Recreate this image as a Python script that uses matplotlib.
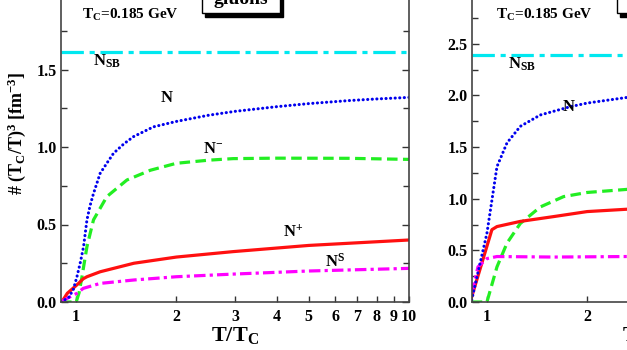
import matplotlib
matplotlib.use('Agg')
import matplotlib.pyplot as plt
from matplotlib.patches import Rectangle

plt.rcParams['font.family'] = 'Liberation Serif'
plt.rcParams['font.weight'] = 'bold'
plt.rcParams['axes.labelweight'] = 'bold'
plt.rcParams['mathtext.fontset'] = 'custom'
plt.rcParams['mathtext.rm'] = 'Liberation Serif:bold'
plt.rcParams['mathtext.it'] = 'Liberation Serif:bold'
plt.rcParams['mathtext.bf'] = 'Liberation Serif:bold'

# ---- left panel (gluons) ----
T_N_l = [0.90, 0.95, 0.98, 1.005, 1.03, 1.052, 1.077, 1.10, 1.127, 1.18, 1.24, 1.295,
         1.39, 1.487, 1.706, 2.0, 2.5, 3.0, 4.0, 5.0, 6.65, 8.0, 10.0]
N_l = [0.0, 0.03, 0.08, 0.163, 0.26, 0.357, 0.53, 0.62, 0.70, 0.83, 0.90, 0.96,
       1.02, 1.067, 1.13, 1.165, 1.205, 1.23, 1.26, 1.28, 1.30, 1.31, 1.32]
T_Nm_l = [0.90, 0.97, 1.00, 1.02, 1.04, 1.077, 1.127, 1.236, 1.42, 1.67, 2.0, 2.5,
          2.96, 4.0, 6.6, 10.0]
Nm_l = [0.0, 0.0, 0.0, 0.06, 0.16, 0.357, 0.53, 0.68, 0.787, 0.85, 0.895, 0.915,
        0.925, 0.928, 0.927, 0.92]
T_Np_l = [0.905, 0.94, 0.98, 1.016, 1.05, 1.077, 1.18, 1.49, 2.0, 2.96, 5.0, 10.0]
Np_l = [0.0, 0.056, 0.09, 0.12, 0.15, 0.163, 0.195, 0.25, 0.29, 0.325, 0.365, 0.40]
T_NS_l = [0.90, 0.94, 1.005, 1.05, 1.18, 1.49, 2.0, 2.96, 5.0, 10.0]
NS_l = [0.0, 0.024, 0.056, 0.088, 0.12, 0.142, 0.163, 0.18, 0.20, 0.217]
NSB_l = 1.615

# ---- right panel ----
T_N_r = [0.90, 1.0, 1.072, 1.149, 1.26, 1.447, 1.78, 2.0, 2.64, 3.0]
N_r = [0.02, 0.665, 1.31, 1.54, 1.70, 1.81, 1.89, 1.925, 1.98, 2.0]
T_Nm_r = [0.90, 1.0, 1.072, 1.149, 1.26, 1.447, 1.70, 2.0, 2.64, 3.0]
Nm_r = [0.0, 0.0, 0.34, 0.57, 0.76, 0.92, 1.02, 1.06, 1.09, 1.10]
T_Np_r = [0.90, 1.035, 1.072, 1.26, 1.59, 2.0, 2.64, 3.0]
Np_r = [0.05, 0.70, 0.73, 0.78, 0.827, 0.875, 0.898, 0.91]
T_NS_r = [0.90, 0.94, 1.0, 1.072, 1.59, 2.64, 3.0]
NS_r = [0.08, 0.34, 0.42, 0.44, 0.435, 0.44, 0.44]
NSB_r = 2.387

xticks = [1, 2, 3, 4, 5, 6, 7, 8, 9, 10]
xlabels_l = ['1', '2', '3', '4', '5', '6', '7', '8', '9', '10']
xlabels_r = ['1', '2', '', '', '', '', '', '', '', '']

fig = plt.figure(figsize=(6.27, 3.5), dpi=100)
W, H = 627.0, 350.0
axw, axh = 348 / W, 310 / H
axL = fig.add_axes([61 / W, 48 / H, axw, axh])
axR = fig.add_axes([471.7 / W, 48 / H, axw, axh])

lw = 2.3


def style(ax, ymax, xlabels):
    ax.set_xscale('log')
    ax.set_xlim(0.9, 10)
    ax.set_ylim(0, ymax)
    ax.set_xticks(xticks)
    ax.set_xticklabels(xlabels)
    ax.xaxis.set_minor_locator(matplotlib.ticker.NullLocator())
    yt = [i * 0.5 for i in range(int(ymax / 0.5) + 1)]
    ax.set_yticks(yt)
    # top label lies outside the picture, as in the reference
    ax.set_yticklabels(['%.1f' % v for v in yt[:-1]] + [''])
    ax.yaxis.set_minor_locator(matplotlib.ticker.MultipleLocator(0.25))
    ax.tick_params(axis='both', which='both', direction='in', right=True, top=True,
                   labelsize=11.5, color='#333333', width=1.0)
    ax.tick_params(axis='y', which='major', length=5, pad=3)
    ax.tick_params(axis='y', which='minor', length=4)
    ax.tick_params(axis='x', which='major', length=4, pad=5)
    for s in ax.spines.values():
        s.set_color('#444444')
        s.set_linewidth(1.2)


def curves(ax, TN, N, TNm, Nm, TNp, Np, TNS, NS, NSB):
    ax.axhline(NSB, color='#00e8f0', lw=lw, ls=(0, (7, 1.8, 1.6, 1.8)))
    ax.plot(TNm, Nm, color='#22ee22', lw=lw, ls=(0, (3.3, 1.7)))
    ax.plot(TNp, Np, color='#ff1010', lw=lw)
    ax.plot(TNS, NS, color='#ff00ff', lw=lw, ls=(0, (3.6, 1.3, 1.0, 1.3)))
    ax.plot(TN, N, color='#0000ee', lw=2.2, ls=(0, (0.05, 1.45)),
            dash_capstyle='round')


style(axL, 2.0, xlabels_l)
style(axR, 3.0, xlabels_r)
curves(axL, T_N_l, N_l, T_Nm_l, Nm_l, T_Np_l, Np_l, T_NS_l, NS_l, NSB_l)
curves(axR, T_N_r, N_r, T_Nm_r, Nm_r, T_Np_r, Np_r, T_NS_r, NS_r, NSB_r)

# labels
fs = 12
axL.text(0.06, 0.925, r'T$_{\rm C}$=0.185 GeV', transform=axL.transAxes, fontsize=11,
         va='center')
axL.text(1.12, 1.55, r'N$_{\rm SB}$', fontsize=fs, va='center')
axL.text(1.79, 1.316, 'N', fontsize=fs, va='center')
axL.text(2.41, 0.99, r'N$^{-}$', fontsize=fs, va='center')
axL.text(4.19, 0.45, r'N$^{+}$', fontsize=fs, va='center')
axL.text(5.6, 0.26, r'N$^{S}$', fontsize=fs, va='center')
axL.set_xlabel(r'T/T$_{\rm C}$', fontsize=16, labelpad=0)
axL.set_ylabel(r'# (T$_{\rm C}$/T)$^{3}$ [fm$^{-3}$]', fontsize=13, va='center')
axL.yaxis.set_label_coords(-0.128, 0.545)

axR.text(0.07, 0.925, r'T$_{\rm C}$=0.185 GeV', transform=axR.transAxes, fontsize=11,
         va='center')
axR.text(1.159, 2.30, r'N$_{\rm SB}$', fontsize=fs, va='center')
axR.text(1.686, 1.89, 'N', fontsize=fs, va='center')
axR.set_xlabel(r'T/T$_{\rm C}$', fontsize=16, labelpad=0)

# boxed panel titles with shadow
for ax, x0, title in [(axL, 0.404, 'gluons'), (axR, 0.417, '')]:
    bw, bh = 0.225, 0.12
    y0 = 0.931
    ax.add_patch(Rectangle((x0 + 0.009, y0 - 0.011), bw, bh, transform=ax.transAxes,
                           facecolor='black', edgecolor='black', clip_on=False, zorder=5))
    ax.add_patch(Rectangle((x0, y0), bw, bh, transform=ax.transAxes,
                           facecolor='white', edgecolor='black', lw=1.0, clip_on=False,
                           zorder=6))
    if title:
        ax.text(x0 + bw / 2, 0.962, title, transform=ax.transAxes, fontsize=14,
                ha='center', va='baseline', zorder=7)

fig.savefig('out.png', dpi=100)
